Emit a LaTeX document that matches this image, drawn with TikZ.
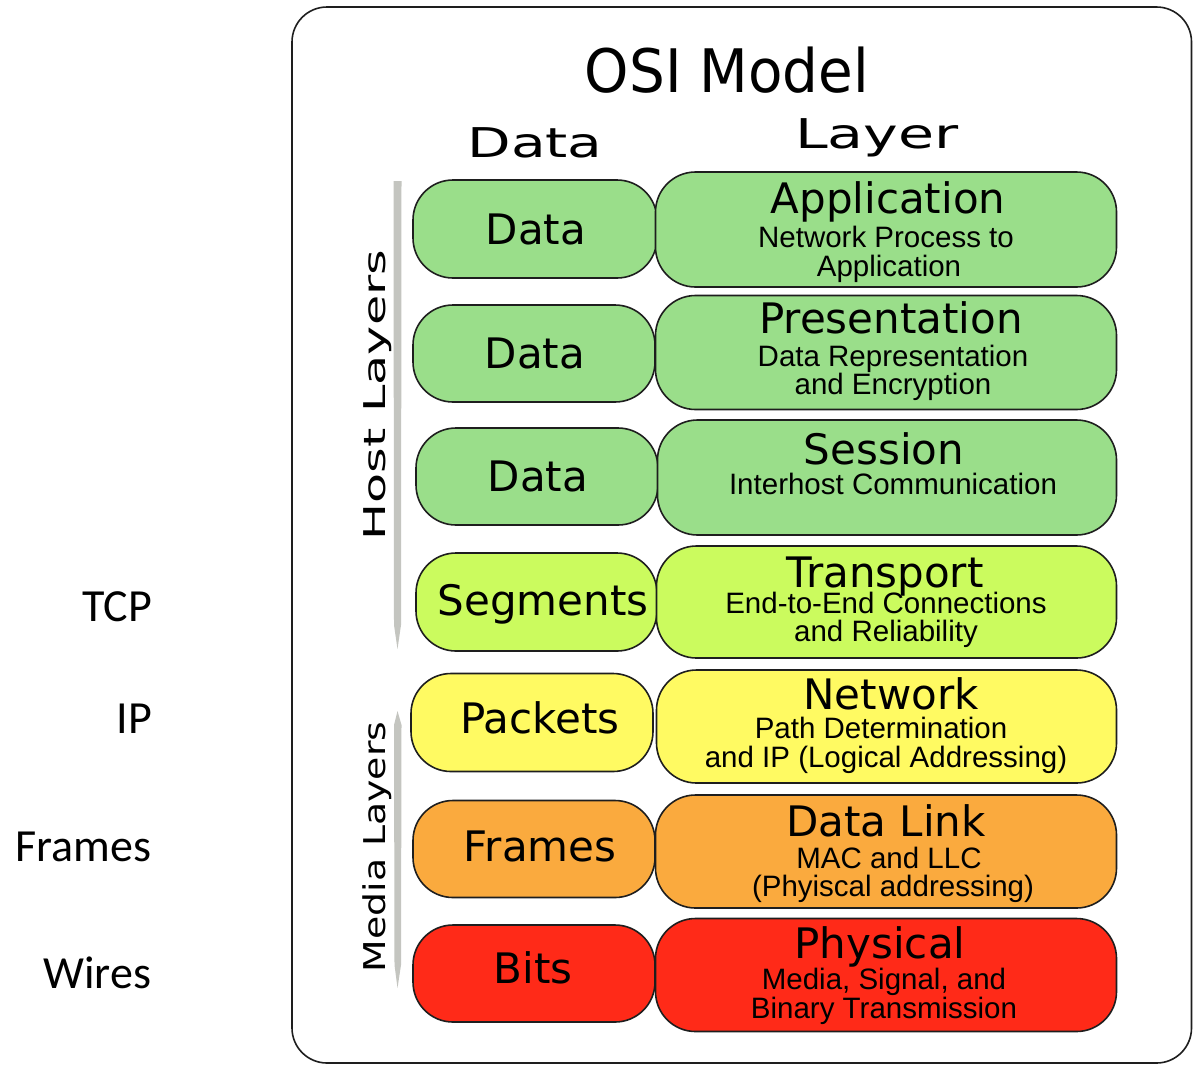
\documentclass[tikz,border=0pt]{standalone}
\usepackage{fontspec}
\usepackage{graphicx}
\newfontfamily\dejavu{DejaVu Sans}
\newfontfamily\libsans{Liberation Sans}
\newfontfamily\carl{Carlito}
\definecolor{cgreen}{HTML}{9ADE8A}
\definecolor{cseg}{HTML}{CBFB5E}
\definecolor{cpack}{HTML}{FFFA62}
\definecolor{cframe}{HTML}{FAAA3E}
\definecolor{cbits}{HTML}{FF2A18}
\definecolor{cbar}{HTML}{C4C5C0}
\definecolor{cline}{HTML}{1E1E1E}
\tikzset{
  layerbox/.style={draw=cline, line width=1.6pt, rounded corners=40pt, inner sep=0pt, outer sep=0pt},
  ttl/.style={font=\dejavu\fontsize{42}{48}\selectfont, anchor=base, inner sep=0pt, outer sep=0pt},
  sub/.style={font=\libsans\fontsize{29.5}{34}\selectfont, anchor=base, inner sep=0pt, outer sep=0pt},
  side/.style={font=\carl\fontsize{46}{52}\selectfont, anchor=base east, inner sep=0pt, outer sep=0pt},
  hdr/.style={font=\dejavu\fontsize{41}{48}\selectfont, anchor=base, inner sep=0pt, outer sep=0pt},
}
\begin{document}
\begin{tikzpicture}[x=1pt,y=-1pt]
\useasboundingbox (0,0) rectangle (1193,1066);
\fill[white] (0,0) rectangle (1193,1066);
% outer frame
\draw[cline, line width=1.6pt, rounded corners=35pt] (292,7) rectangle (1191.5,1063);
% titles
\node[font=\dejavu\fontsize{60}{70}\selectfont, anchor=base, inner sep=0pt] (title) at (727,92) {\scalebox{0.94}[1]{OSI Model}};
\node[hdr] (hdata) at (535,157) {\scalebox{1.38}[1]{Data}};
\node[hdr] (hlayer) at (877,148) {\scalebox{1.43}[1]{Layer}};
% side bars
\fill[cbar] (393.5,181) -- (401.5,181) -- (401,625) -- (397.5,649) -- (394,625) -- cycle;
\fill[cbar] (394,725) -- (397.5,711) -- (401.5,725) -- (401,965) -- (397.5,988) -- (394.5,965) -- cycle;
\node[font=\dejavu\fontsize{30}{36}\selectfont, rotate=90, anchor=base, inner sep=0pt] (host) at (385,395) {\scalebox{1.64}[1]{Host Layers}};
\node[font=\dejavu\fontsize{30}{36}\selectfont, rotate=90, anchor=base, inner sep=0pt] (media) at (385,847) {\scalebox{1.26}[1]{Media Layers}};
% left column boxes
\node[layerbox, fill=cgreen, minimum width=244pt, minimum height=98pt] (b1) at (535,229) {};
\node[layerbox, fill=cgreen, minimum width=242pt, minimum height=97pt] (b2) at (534,353.5) {};
\node[layerbox, fill=cgreen, minimum width=242pt, minimum height=97pt] (b3) at (537,476.5) {};
\node[layerbox, fill=cseg, minimum width=241pt, minimum height=98pt] (b4) at (536.5,602) {};
\node[layerbox, fill=cpack, minimum width=242pt, minimum height=98pt] (b5) at (532,722.5) {};
\node[layerbox, fill=cframe, minimum width=242pt, minimum height=97pt] (b6) at (534,849) {};
\node[layerbox, fill=cbits, minimum width=242pt, minimum height=97pt] (b7) at (534,973.5) {};
% right column boxes
\node[layerbox, fill=cgreen, minimum width=461pt, minimum height=115pt] (r1) at (886,229.5) {};
\node[layerbox, fill=cgreen, minimum width=461pt, minimum height=114pt] (r2) at (886,352.5) {};
\node[layerbox, fill=cgreen, minimum width=459pt, minimum height=115pt] (r3) at (887,477.5) {};
\node[layerbox, fill=cseg, minimum width=460pt, minimum height=112pt] (r4) at (886.5,602) {};
\node[layerbox, fill=cpack, minimum width=460pt, minimum height=113pt] (r5) at (886.5,726.5) {};
\node[layerbox, fill=cframe, minimum width=461pt, minimum height=113pt] (r6) at (886,851.5) {};
\node[layerbox, fill=cbits, minimum width=461pt, minimum height=113pt] (r7) at (886,975) {};
% left column texts
\node[ttl] (t1) at (536,244) {Data};
\node[ttl] (t2) at (535,368) {Data};
\node[ttl] (t3) at (538,491) {Data};
\node[ttl] (t4) at (543,615) {Segments};
\node[ttl] (t5) at (540,733) {Packets};
\node[ttl] (t6) at (540,861) {Frames};
\node[ttl] (t7) at (533,983) {Bits};
% right column texts
\node[ttl] (a1) at (888,213) {Application};
\node[sub] (a2) at (886,247) {Network Process to};
\node[sub] (a3) at (889,276) {Application};
\node[ttl] (p1) at (891,333) {Presentation};
\node[sub] (p2) at (893,366) {Data Representation};
\node[sub] (p3) at (893,394) {and Encryption};
\node[ttl] (s1) at (884,464) {Session};
\node[sub] (s2) at (893,494) {Interhost Communication};
\node[ttl] (tr1) at (885,587) {Transport};
\node[sub] (tr2) at (886,613) {End-to-End Connections};
\node[sub] (tr3) at (886,641) {and Reliability};
\node[ttl] (n1) at (891,709) {Network};
\node[sub] (n2) at (881,738) {Path Determination};
\node[sub] (n3) at (886,767) {and IP (Logical Addressing)};
\node[ttl] (d1) at (886,836) {Data Link};
\node[sub] (d2) at (889,868) {MAC and LLC};
\node[sub] (d3) at (893,896) {(Phyiscal addressing)};
\node[ttl] (ph1) at (880,958) {Physical};
\node[sub] (ph2) at (884,989) {Media, Signal, and};
\node[sub] (ph3) at (884,1018) {Binary Transmission};
% side labels
\node[side] (tcp) at (152,621) {TCP};
\node[side] (ip) at (152,733) {IP};
\node[side] (fr) at (151,861) {Frames};
\node[side] (wi) at (151,988) {Wires};
\end{tikzpicture}
\end{document}
